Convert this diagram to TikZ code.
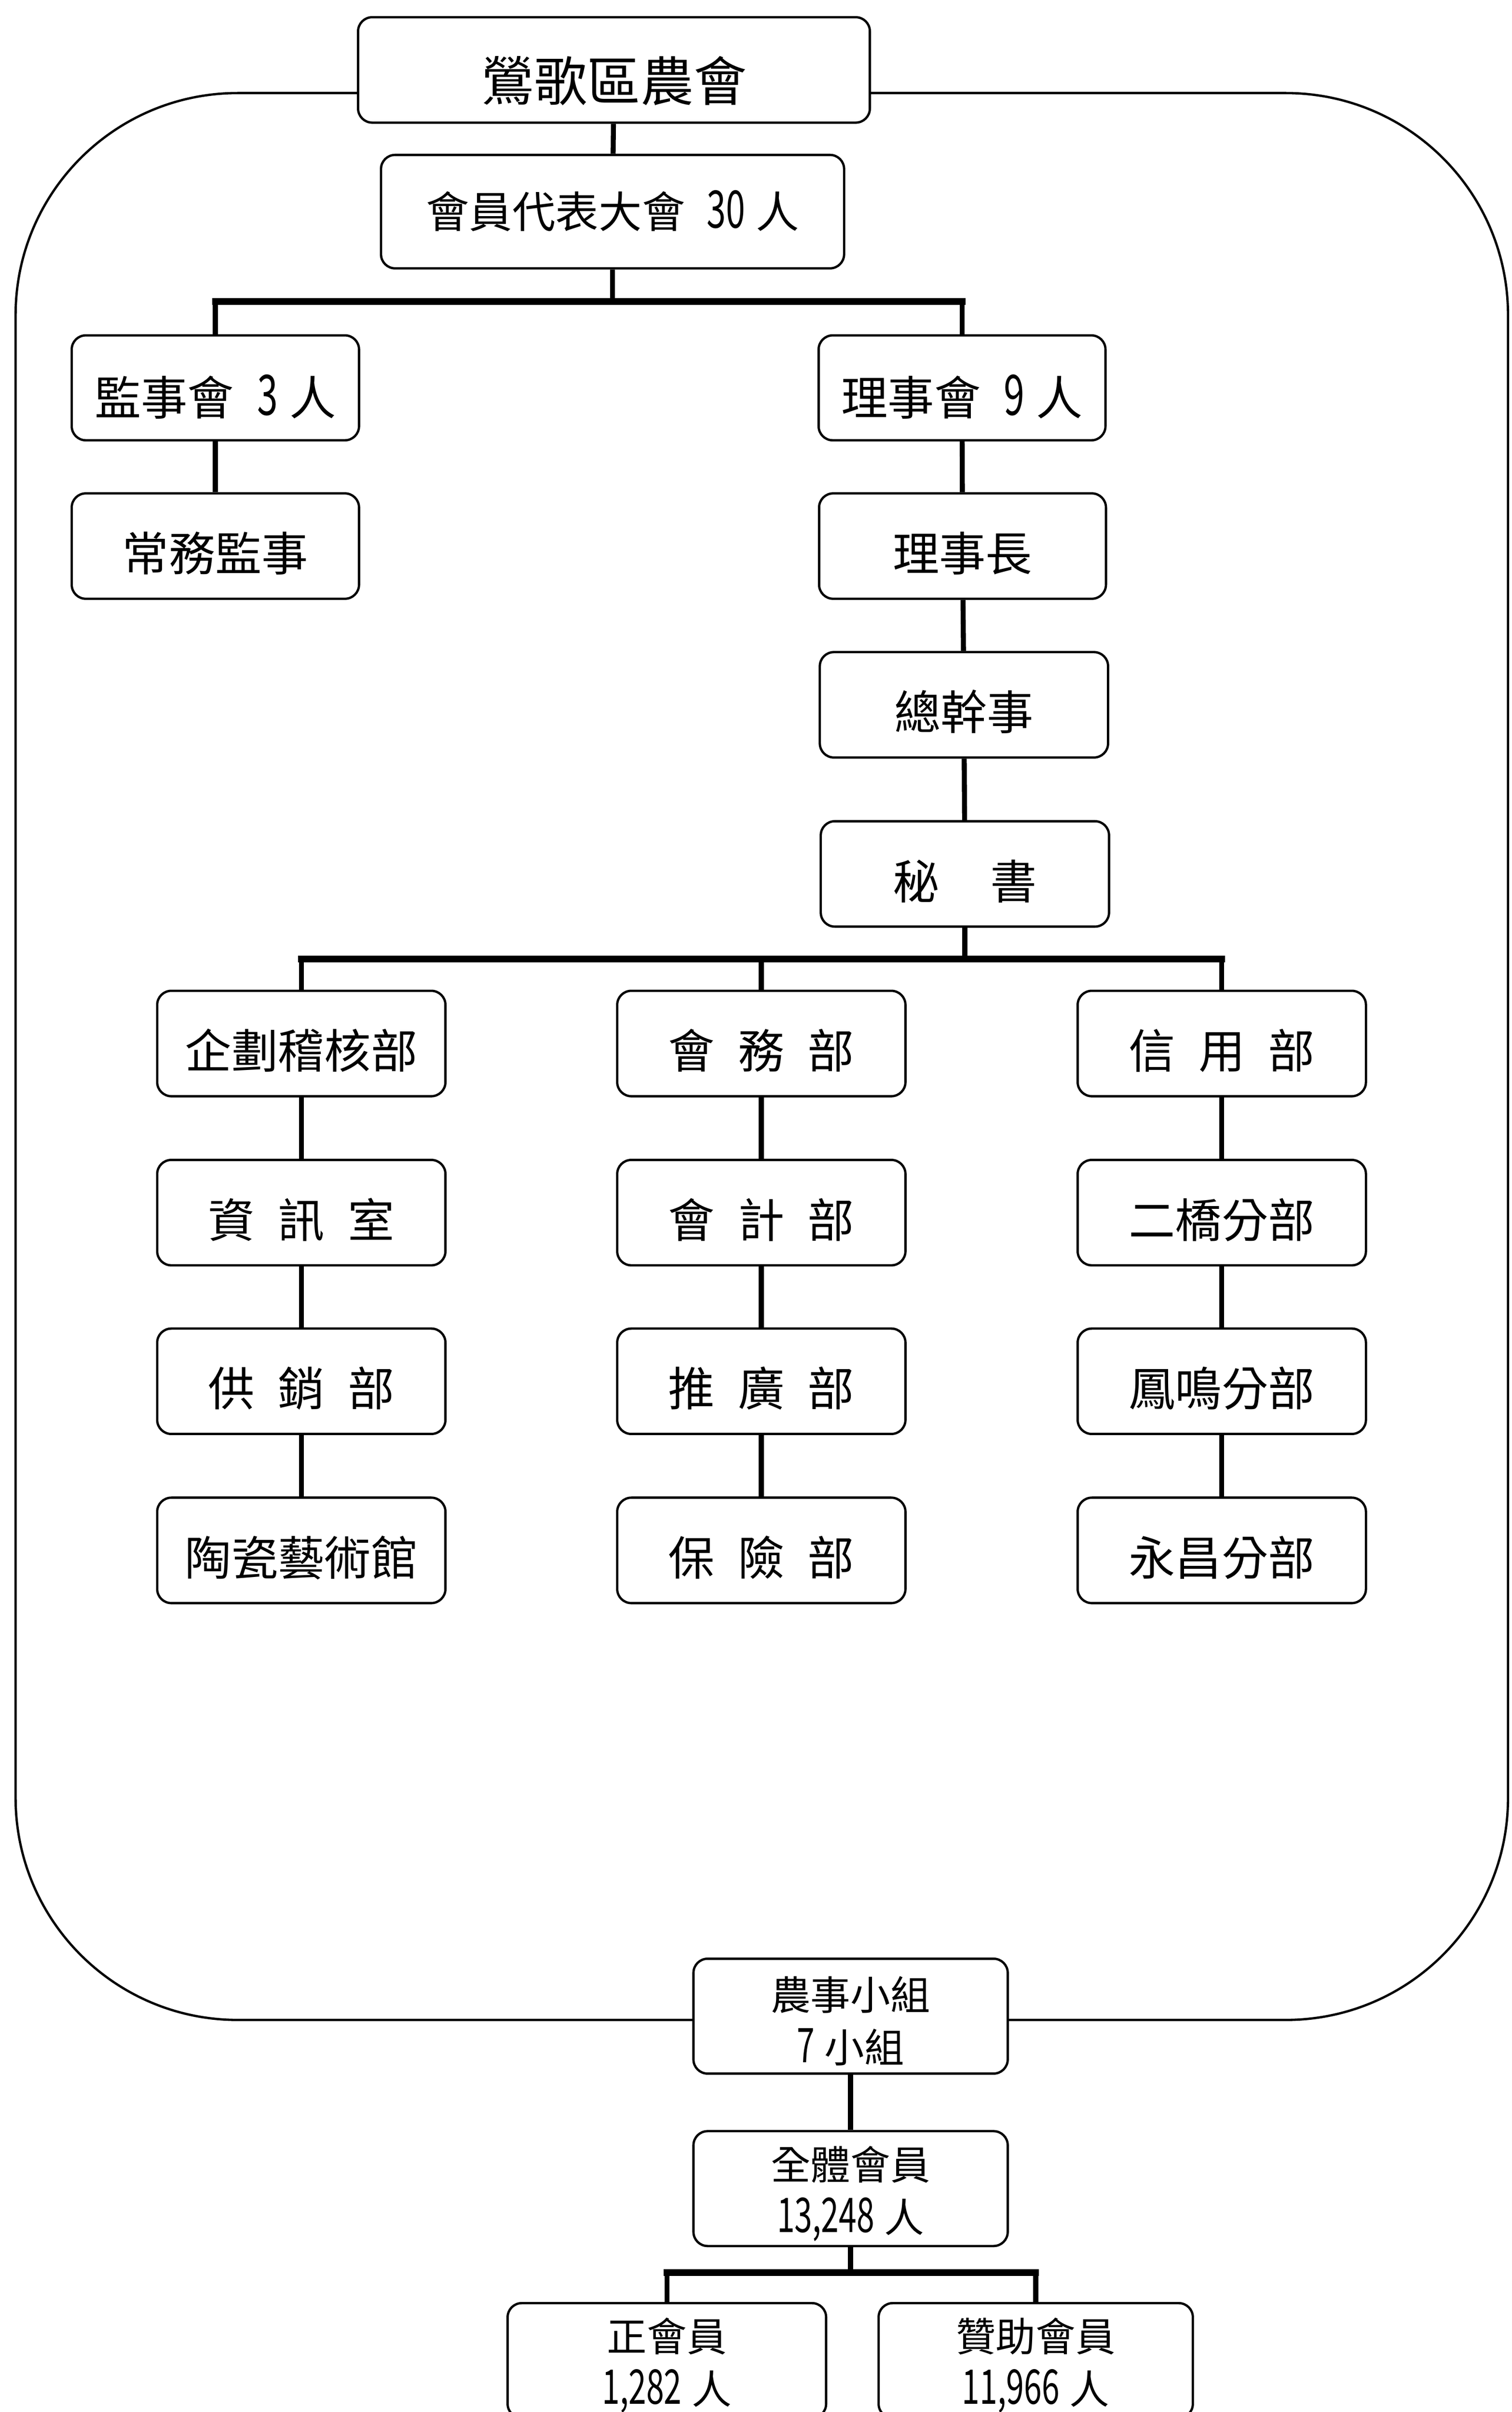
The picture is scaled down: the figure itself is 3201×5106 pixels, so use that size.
\documentclass[tikz,border=0pt]{standalone}
\usepackage{fontspec}
\newfontfamily\tc{Noto Sans CJK TC}
\newcommand\dg[1]{\scalebox{0.8}[1.2]{#1}}
\newcommand\gp{\hspace{0.5em}}
\newcommand\tstrut{\rule{0pt}{26.3pt}}
\begin{document}
\begin{tikzpicture}[x=0.01cm,y=-0.01cm,
  box/.style={draw, line width=1.4pt, rounded corners=8.5pt, fill=white, inner sep=0pt,
    minimum width=6.1cm, minimum height=2.23cm, font=\tc\fontsize{28pt}{34pt}\selectfont,
    text height=32pt, text depth=2pt},
  small/.style={draw, line width=1.4pt, rounded corners=8.5pt, fill=white, inner sep=0pt,
    align=center, font=\tc\fontsize{24pt}{31.6pt}\selectfont,
    minimum width=6.65cm, minimum height=2.43cm},
  conn/.style={line width=3pt},
  bar/.style={line width=4pt, line cap=rect},
  frame/.style={line width=1.4pt, rounded corners=4.7cm}]
\useasboundingbox (0,0) rectangle (3201,5106);
\clip (0,0) rectangle (3201,5106);
\draw[frame] (33,197) rectangle (3193,4276);

\node[box, minimum width=10.83cm, font=\tc\fontsize{32pt}{38pt}\selectfont, text height=39.6pt, text depth=2.2pt] (top) at (1300,148) {鶯歌區農會};
\node[box, minimum width=9.8cm, minimum height=2.4cm, font=\tc\fontsize{26pt}{32pt}\selectfont, text height=21.6pt, text depth=1.8pt] (rep) at (1297,448) {會員代表大會\hspace{0.5em}\dg{30}\hspace{0.25em}人};
\node[box, minimum width=6.08cm, minimum height=2.22cm, text height=34.6pt] (sup) at (456,821) {監事會\hspace{0.5em}\dg{3}\hspace{0.25em}人};
\node[box, minimum width=6.07cm, minimum height=2.22cm, text height=34.6pt] (dir) at (2037,821) {理事會\hspace{0.5em}\dg{9}\hspace{0.25em}人};
\node[box, minimum width=6.08cm] (csup) at (456,1156) {常務監事};
\node[box, minimum width=6.07cm] (chair) at (2038,1156) {理事長};
\node[box] (gm) at (2041,1492) {總幹事};
\node[box] (sec) at (2043,1850) {秘\hspace{1.1em}書};

\node[box] (a1) at (638,2209) {企劃稽核部};
\node[box] (a2) at (638,2567) {資\gp 訊\gp 室};
\node[box] (a3) at (638,2924) {供\gp 銷\gp 部};
\node[box] (a4) at (638,3282) {陶瓷藝術館};
\node[box] (b1) at (1612,2209) {會\gp 務\gp 部};
\node[box] (b2) at (1612,2567) {會\gp 計\gp 部};
\node[box] (b3) at (1612,2924) {推\gp 廣\gp 部};
\node[box] (b4) at (1612,3282) {保\gp 險\gp 部};
\node[box] (c1) at (2587,2209) {信\gp 用\gp 部};
\node[box] (c2) at (2587,2567) {二橋分部};
\node[box] (c3) at (2587,2924) {鳳鳴分部};
\node[box] (c4) at (2587,3282) {永昌分部};

\node[small] (grp) at (1801,4268) {\tstrut 農事小組\\\dg{7}\hspace{0.25em}小組};
\node[small] (all) at (1801,4633) {\tstrut 全體會員\\\dg{13,248}\hspace{0.25em}人};
\node[small, minimum width=6.74cm, anchor=north] (reg) at (1412,4873) {\tstrut 正會員\\\dg{1,282}\hspace{0.25em}人};
\node[small, anchor=north] (assoc) at (2193,4873) {\tstrut 贊助會員\\\dg{11,966}\hspace{0.25em}人};

\coordinate (j1) at (1297,638);
\coordinate (j2) at (2043,2030);
\coordinate (j3) at (1801,4811);

\draw[conn] (top) -- (rep);
\draw[conn] (rep) -- (j1);
\draw[conn] (sup.north |- j1) -- (sup);
\draw[conn] (dir.north |- j1) -- (dir);
\draw[bar] (sup.north |- j1) -- (dir.north |- j1);
\draw[conn] (sup) -- (csup);
\draw[conn] (dir) -- (chair);
\draw[conn] (chair) -- (gm);
\draw[conn] (gm) -- (sec);
\draw[conn] (sec) -- (j2);
\foreach \c in {a1,b1,c1} \draw[conn] (\c.north |- j2) -- (\c);
\draw[bar] (a1.north |- j2) -- (c1.north |- j2);
\foreach \c in {a,b,c} {
  \draw[conn] (\c1) -- (\c2);
  \draw[conn] (\c2) -- (\c3);
  \draw[conn] (\c3) -- (\c4);
}
\draw[conn] (grp) -- (all);
\draw[conn] (all) -- (j3);
\draw[conn] (reg.north |- j3) -- (reg);
\draw[conn] (assoc.north |- j3) -- (assoc);
\draw[bar] (reg.north |- j3) -- (assoc.north |- j3);
\end{tikzpicture}
\end{document}
